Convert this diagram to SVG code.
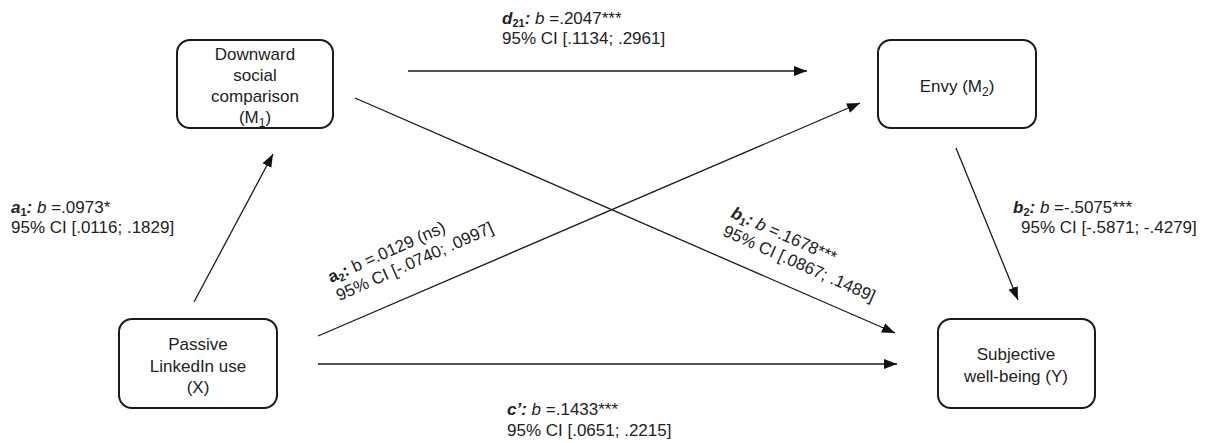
<svg xmlns="http://www.w3.org/2000/svg" width="1214" height="443" viewBox="0 0 1214 443">
<style>
.box{fill:#fff;stroke:#1a1a1a;stroke-width:2}
.t{font-family:"Liberation Sans",Arial,sans-serif;font-size:17px;fill:#222}
.c{text-anchor:middle}
.bi{font-weight:bold;font-style:italic}
.sb{font-weight:bold;font-size:11px}
.i{font-style:italic}
.ln{stroke:#1a1a1a;stroke-width:1.3;fill:none;marker-end:url(#ah)}
</style>
<defs>
<marker id="ah" markerUnits="userSpaceOnUse" markerWidth="14" markerHeight="11" refX="13" refY="5" orient="auto">
<path d="M0,0 L13,5 L0,10 z" fill="#111"/>
</marker>
</defs>
<rect width="1214" height="443" fill="#fff"/>
<g id="connectors">
<line class="ln" x1="194" y1="302" x2="273" y2="154"/>
<line class="ln" x1="408" y1="71" x2="807" y2="71"/>
<line class="ln" x1="318" y1="336" x2="860" y2="103"/>
<line class="ln" x1="355" y1="98" x2="895" y2="333"/>
<line class="ln" x1="956" y1="148" x2="1018" y2="300"/>
<line class="ln" x1="318" y1="364" x2="897" y2="364"/>
</g>
<g id="node-m1">
<rect class="box" x="177" y="40" width="156" height="88" rx="13"/>
<text class="t c" x="255" y="60">Downward</text>
<text class="t c" x="255" y="81">social</text>
<text class="t c" x="255" y="102">comparison</text>
<text class="t c" x="255" y="123">(M<tspan font-size="12" dy="4">1</tspan><tspan dy="-4">)</tspan></text>
</g>
<g id="node-m2">
<rect class="box" x="878" y="40" width="158" height="88" rx="13"/>
<text class="t c" x="957" y="92">Envy (M<tspan font-size="12" dy="4">2</tspan><tspan dy="-4">)</tspan></text>
</g>
<g id="node-x">
<rect class="box" x="119" y="319" width="158" height="89" rx="13"/>
<text class="t c" x="198" y="350">Passive</text>
<text class="t c" x="198" y="372">LinkedIn use</text>
<text class="t c" x="198" y="393">(X)</text>
</g>
<g id="node-y">
<rect class="box" x="938" y="319" width="157" height="89" rx="13"/>
<text class="t c" x="1016" y="360">Subjective</text>
<text class="t c" x="1016" y="382">well-being (Y)</text>
</g>
<g id="labels">
<text class="t" x="502" y="24"><tspan class="bi">d</tspan><tspan class="sb" dy="3">21</tspan><tspan class="bi" dy="-3">:</tspan> <tspan class="i">b</tspan> =.2047***</text>
<text class="t" x="502" y="44">95% CI [.1134; .2961]</text>
<text class="t" x="11" y="213"><tspan class="bi">a</tspan><tspan class="sb" dy="3">1</tspan><tspan class="bi" dy="-3">:</tspan> <tspan class="i">b</tspan> =.0973*</text>
<text class="t" x="11" y="233">95% CI [.0116; .1829]</text>
<text class="t" x="1013" y="213"><tspan class="bi">b</tspan><tspan class="sb" dy="3">2</tspan><tspan class="bi" dy="-3">:</tspan> <tspan class="i">b</tspan> =-.5075***</text>
<text class="t" x="1021" y="233">95% CI [-.5871; -.4279]</text>
<text class="t" x="507" y="415"><tspan class="bi">c’:</tspan> <tspan class="i">b</tspan> =.1433***</text>
<text class="t" x="507" y="436">95% CI [.0651; .2215]</text>
<g transform="translate(331,283) rotate(-24)">
<text class="t" x="0" y="0"><tspan font-weight="bold">a</tspan><tspan class="sb" dy="3">2</tspan><tspan font-weight="bold" dy="-3">:</tspan> b =.0129 (ns)</text>
<text class="t" x="0" y="20">95% CI [-.0740; .0997]</text>
</g>
<g transform="translate(730,217) rotate(24)">
<text class="t" x="0" y="0"><tspan class="bi">b</tspan><tspan class="sb" dy="3">1</tspan><tspan class="bi" dy="-3">:</tspan> <tspan class="i">b</tspan> =.1678***</text>
<text class="t" x="0" y="20">95% CI [.0867; .1489]</text>
</g>
</g>
</svg>
